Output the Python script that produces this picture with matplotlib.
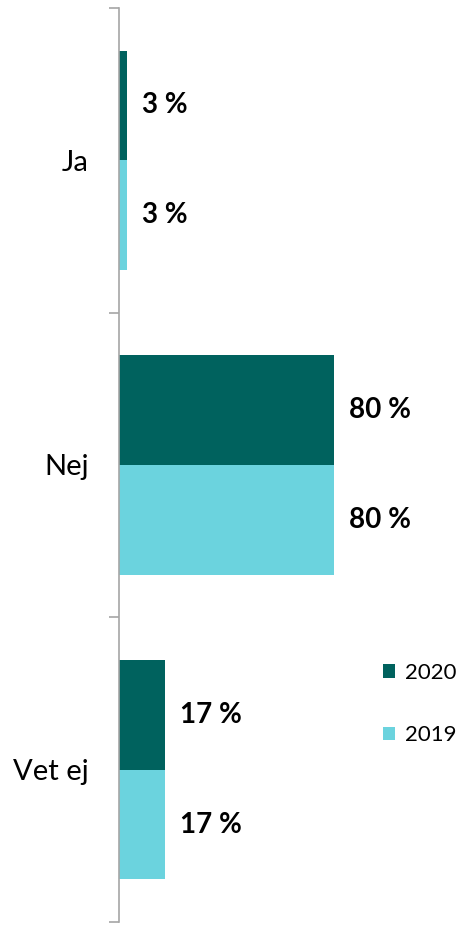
import numpy as np
import matplotlib
matplotlib.use("Agg")
import matplotlib.pyplot as plt

plt.rcParams['font.family'] = ['Lato', 'DejaVu Sans']

categories = ["Ja", "Nej", "Vet ej"]
values_2020 = [3, 80, 17]
values_2019 = [3, 80, 17]
series = ["2020", "2019"]
colors = ["#00625E", "#6BD3DE"]

fig = plt.figure(figsize=(4.6, 9.26), dpi=100)
ax = fig.add_axes([119/460, 4/926, 231/460, 914/926])

y = np.arange(len(categories))
h = 0.36

b1 = ax.barh(y - h/2, values_2020, height=h, color=colors[0], label=series[0])
b2 = ax.barh(y + h/2, values_2019, height=h, color=colors[1], label=series[1])

for bars, vals in ((b1, values_2020), (b2, values_2019)):
    for bar, v in zip(bars, vals):
        ax.annotate(f"{v} %", (bar.get_width(), bar.get_y() + bar.get_height()/2),
                    xytext=(11, 0), textcoords="offset points",
                    ha="left", va="center", fontsize=20, fontweight="bold")

ax.set_xlim(0, 80 * 231 / 215)
ax.set_ylim(2.5, -0.5)

# category names centred, tick marks on the group borders
ax.set_yticks(np.arange(-0.5, len(categories)), minor=False)
ax.set_yticklabels([])
ax.set_yticks(y, minor=True)
ax.set_yticklabels(categories, minor=True, fontsize=21)
ax.tick_params(axis="y", which="major", length=7, color="#A6A6A6", width=1.2)
ax.tick_params(axis="y", which="minor", length=0, pad=22)

ax.set_xticks([])
for s in ["top", "right", "bottom"]:
    ax.spines[s].set_visible(False)
ax.spines["left"].set_color("#A6A6A6")
ax.spines["left"].set_linewidth(1.2)

fig.legend(handles=[b1, b2], loc="center left", bbox_to_anchor=(383/460, 1 - 704/926),
           frameon=False, fontsize=16, handlelength=0.55, handleheight=0.55,
           handletextpad=0.45, labelspacing=1.9, borderpad=0, borderaxespad=0)

fig.savefig("out.png", dpi=100)
